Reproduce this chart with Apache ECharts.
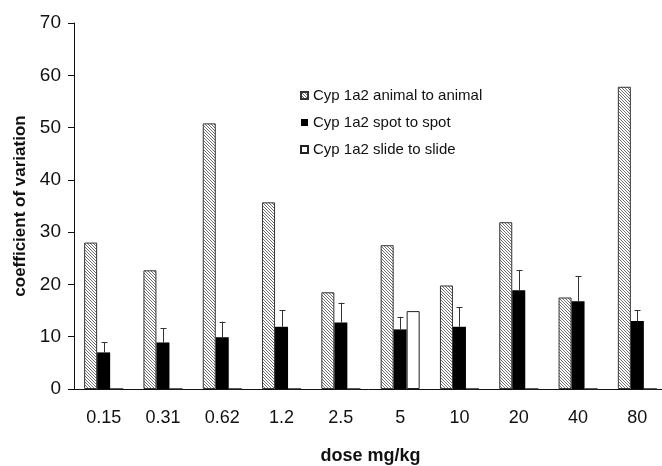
<!DOCTYPE html>
<html>
<head>
<meta charset="utf-8">
<script src="https://cdn.jsdelivr.net/npm/echarts@6/dist/echarts.min.js"></script>
<style>html,body{margin:0;padding:0;background:#fff}#c{width:662px;height:466px}</style>
</head>
<body>
<div id="c"></div>
<script>
const doses = ['0.15','0.31','0.62','1.2','2.5','5','10','20','40','80'];
const animalToAnimal = [28, 22.7, 50.8, 35.7, 18.5, 27.5, 19.8, 31.9, 17.5, 57.8];
const spotToSpot = [7.0, 8.9, 9.9, 11.9, 12.7, 11.4, 11.9, 18.9, 16.8, 13.0];
const spotToSpotUpper = [8.9, 11.6, 12.9, 15.1, 16.5, 13.8, 15.6, 22.7, 21.6, 15.1];
const slideToSlide = [0, 0, 0, 0, 0, 14.9, 0, 0, 0, 0];
const yTicks = { min: 0, max: 70, interval: 10 };

function hatch() {
  const s = 3;
  const c = document.createElement('canvas');
  c.width = s; c.height = s;
  const g = c.getContext('2d');
  g.fillStyle = '#fff'; g.fillRect(0, 0, s, s);
  g.strokeStyle = '#707070'; g.lineWidth = 1;
  g.beginPath();
  g.moveTo(-1, -1); g.lineTo(s + 1, s + 1);
  g.moveTo(-1, s - 1); g.lineTo(1, s + 1);
  g.moveTo(s - 1, -1); g.lineTo(s + 1, 1);
  g.stroke();
  return c;
}

const font = 'Liberation Sans, Arial, sans-serif';
const chart = echarts.init(document.getElementById('c'), null, { renderer: 'canvas' });
const errData = doses.map((d, i) => [i, spotToSpot[i], spotToSpotUpper[i]]);

chart.setOption({
  animation: false,
  backgroundColor: '#fff',
  grid: { left: 74, right: -5, top: 23, bottom: 77, containLabel: false, outerBoundsMode: 'none' },
  legend: {
    orient: 'vertical', left: 295, top: 83,
    itemWidth: 7, itemHeight: 7, itemGap: 12,
    icon: 'rect',
    textStyle: { fontFamily: font, fontSize: 15, color: '#111' },
    data: ['Cyp 1a2 animal to animal', 'Cyp 1a2 spot to spot', 'Cyp 1a2 slide to slide']
  },
  xAxis: {
    type: 'category', data: doses,
    name: 'dose mg/kg', nameLocation: 'middle', nameGap: 58,
    nameTextStyle: { fontFamily: font, fontSize: 18, fontWeight: 'bold', color: '#111' },
    axisLine: { lineStyle: { color: '#111', width: 1 } },
    axisTick: { length: 6, lineStyle: { color: '#111' } },
    axisLabel: { margin: 20, fontFamily: font, fontSize: 18, color: '#111' },
    splitLine: { show: false }
  },
  yAxis: {
    type: 'value', min: yTicks.min, max: yTicks.max, interval: yTicks.interval,
    name: 'coefficient of variation', nameLocation: 'middle', nameGap: 44,
    nameTextStyle: { fontFamily: font, fontSize: 17, fontWeight: 'bold', color: '#111' },
    axisLine: { show: true, lineStyle: { color: '#111', width: 1 } },
    axisTick: { show: true, length: 6, lineStyle: { color: '#111' } },
    axisLabel: { margin: 13, fontFamily: font, fontSize: 19, color: '#111' },
    splitLine: { show: false }
  },
  series: [
    {
      name: 'Cyp 1a2 animal to animal', type: 'bar', data: animalToAnimal,
      barWidth: 13, barGap: '0%',
      itemStyle: { color: { image: hatch(), repeat: 'repeat' }, borderColor: '#333', borderWidth: 1 }
    },
    {
      name: 'Cyp 1a2 spot to spot', type: 'bar', data: spotToSpot,
      barWidth: 13, barGap: '0%',
      itemStyle: { color: '#000', borderColor: '#000', borderWidth: 0 }
    },
    {
      name: 'Cyp 1a2 slide to slide', type: 'bar', data: slideToSlide,
      barWidth: 13, barGap: '0%',
      itemStyle: { color: '#fff', borderColor: '#222', borderWidth: 1 }
    },
    {
      name: 'err', type: 'custom', data: errData, z: 5,
      encode: { x: 0, y: [1, 2] },
      renderItem: function (params, api) {
        const b = api.coord([api.value(0), api.value(1)]);
        const t = api.coord([api.value(0), api.value(2)]);
        const x = Math.round(b[0]) + 0.5;
        const st = { stroke: '#333', lineWidth: 1 };
        return {
          type: 'group',
          children: [
            { type: 'line', shape: { x1: x, y1: b[1], x2: x, y2: t[1] }, style: st },
            { type: 'line', shape: { x1: x - 3, y1: Math.round(t[1]) + 0.5, x2: x + 3, y2: Math.round(t[1]) + 0.5 }, style: st }
          ]
        };
      }
    }
  ]
});
</script>
</body>
</html>
